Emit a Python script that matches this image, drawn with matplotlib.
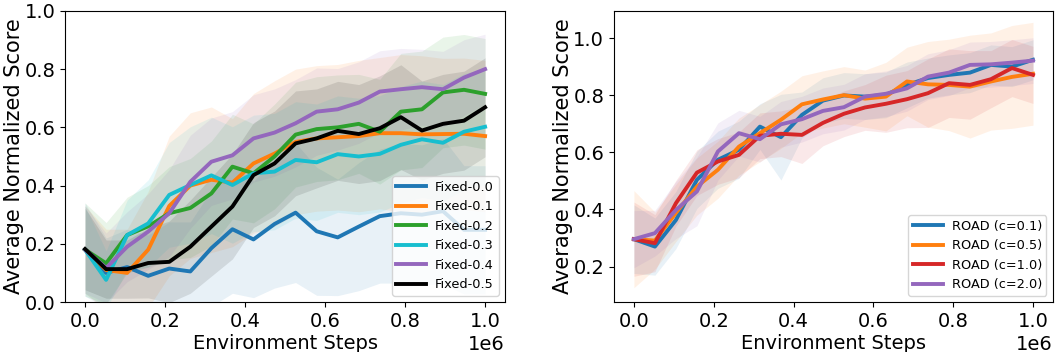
import numpy as np
import matplotlib
matplotlib.use("Agg")
import matplotlib.pyplot as plt

steps = np.linspace(0, 1e6, 20)

# Left panel: fixed coefficients
left_labels = ["Fixed-0.0", "Fixed-0.1", "Fixed-0.2", "Fixed-0.3", "Fixed-0.4", "Fixed-0.5"]
left_colors = ["tab:blue", "tab:orange", "tab:green", "#17becf", "tab:purple", "black"]
fixed_00 = [0.18, 0.10, 0.12, 0.09, 0.115, 0.105, 0.185, 0.25, 0.215, 0.268, 0.307, 0.243, 0.222, 0.259, 0.295, 0.305, 0.30, 0.312, 0.248, 0.248]
fixed_01 = [0.18, 0.11, 0.10, 0.18, 0.33, 0.40, 0.42, 0.41, 0.476, 0.51, 0.55, 0.562, 0.566, 0.57, 0.58, 0.58, 0.576, 0.577, 0.578, 0.57]
fixed_02 = [0.18, 0.133, 0.23, 0.26, 0.305, 0.323, 0.373, 0.465, 0.442, 0.50, 0.575, 0.594, 0.60, 0.612, 0.585, 0.654, 0.662, 0.72, 0.729, 0.715]
fixed_03 = [0.18, 0.076, 0.23, 0.27, 0.368, 0.402, 0.435, 0.402, 0.442, 0.448, 0.488, 0.48, 0.508, 0.50, 0.509, 0.54, 0.559, 0.547, 0.585, 0.602]
fixed_04 = [0.18, 0.117, 0.19, 0.242, 0.305, 0.413, 0.482, 0.504, 0.562, 0.582, 0.614, 0.654, 0.662, 0.685, 0.723, 0.731, 0.738, 0.731, 0.771, 0.80]
fixed_05 = [0.182, 0.113, 0.113, 0.134, 0.138, 0.19, 0.259, 0.328, 0.436, 0.476, 0.545, 0.562, 0.588, 0.577, 0.597, 0.635, 0.589, 0.612, 0.623, 0.669]

fixed_00_sd = [0.16, 0.12, 0.13, 0.14, 0.16, 0.17, 0.20, 0.22, 0.20, 0.22, 0.24, 0.22, 0.20, 0.22, 0.23, 0.24, 0.24, 0.25, 0.22, 0.22]
fixed_01_sd = [0.15, 0.14, 0.15, 0.20, 0.24, 0.25, 0.25, 0.22, 0.24, 0.25, 0.25, 0.25, 0.25, 0.26, 0.26, 0.27, 0.27, 0.26, 0.26, 0.26]
fixed_02_sd = [0.16, 0.14, 0.13, 0.14, 0.16, 0.17, 0.18, 0.18, 0.17, 0.18, 0.18, 0.18, 0.18, 0.17, 0.18, 0.20, 0.20, 0.19, 0.19, 0.19]
fixed_03_sd = [0.15, 0.10, 0.12, 0.15, 0.18, 0.20, 0.20, 0.20, 0.20, 0.20, 0.20, 0.20, 0.20, 0.20, 0.20, 0.20, 0.20, 0.20, 0.20, 0.20]
fixed_04_sd = [0.15, 0.12, 0.12, 0.13, 0.15, 0.16, 0.15, 0.15, 0.15, 0.15, 0.15, 0.15, 0.14, 0.14, 0.14, 0.14, 0.13, 0.13, 0.13, 0.12]
fixed_05_sd = [0.14, 0.10, 0.10, 0.12, 0.14, 0.16, 0.17, 0.18, 0.18, 0.18, 0.18, 0.17, 0.17, 0.17, 0.18, 0.18, 0.17, 0.17, 0.17, 0.17]

# Right panel: ROAD
right_labels = ["ROAD (c=0.1)", "ROAD (c=0.5)", "ROAD (c=1.0)", "ROAD (c=2.0)"]
right_colors = ["tab:blue", "tab:orange", "tab:red", "tab:purple"]
road_01 = [0.296, 0.27, 0.363, 0.504, 0.574, 0.609, 0.69, 0.653, 0.731, 0.781, 0.799, 0.795, 0.801, 0.836, 0.86, 0.871, 0.879, 0.906, 0.90, 0.924]
road_05 = [0.296, 0.291, 0.388, 0.48, 0.539, 0.62, 0.667, 0.714, 0.768, 0.785, 0.80, 0.788, 0.795, 0.848, 0.838, 0.836, 0.83, 0.848, 0.864, 0.875]
road_10 = [0.296, 0.282, 0.422, 0.529, 0.568, 0.591, 0.658, 0.665, 0.661, 0.703, 0.735, 0.757, 0.77, 0.786, 0.807, 0.842, 0.836, 0.856, 0.895, 0.871]
road_20 = [0.296, 0.317, 0.398, 0.463, 0.603, 0.667, 0.646, 0.698, 0.716, 0.745, 0.758, 0.795, 0.805, 0.824, 0.865, 0.879, 0.906, 0.908, 0.914, 0.921]

road_01_sd = [0.12, 0.10, 0.10, 0.10, 0.10, 0.10, 0.08, 0.15, 0.08, 0.08, 0.08, 0.08, 0.08, 0.08, 0.07, 0.07, 0.07, 0.07, 0.07, 0.07]
road_05_sd = [0.17, 0.10, 0.10, 0.10, 0.10, 0.10, 0.10, 0.10, 0.10, 0.10, 0.10, 0.10, 0.12, 0.12, 0.15, 0.16, 0.18, 0.17, 0.18, 0.18]
road_10_sd = [0.13, 0.10, 0.08, 0.08, 0.08, 0.08, 0.08, 0.08, 0.10, 0.08, 0.08, 0.08, 0.10, 0.10, 0.12, 0.12, 0.12, 0.10, 0.10, 0.10]
road_20_sd = [0.10, 0.08, 0.10, 0.12, 0.10, 0.08, 0.08, 0.08, 0.08, 0.08, 0.08, 0.08, 0.08, 0.08, 0.08, 0.08, 0.08, 0.08, 0.08, 0.08]

left_means = [fixed_00, fixed_01, fixed_02, fixed_03, fixed_04, fixed_05]
left_sds = [fixed_00_sd, fixed_01_sd, fixed_02_sd, fixed_03_sd, fixed_04_sd, fixed_05_sd]
right_means = [road_01, road_05, road_10, road_20]
right_sds = [road_01_sd, road_05_sd, road_10_sd, road_20_sd]

plt.rcParams['font.family'] = ['DejaVu Sans']
fig = plt.figure(figsize=(10.56, 3.52), dpi=100)
ax1 = fig.add_axes([0.0616, 0.142, 0.4167, 0.827])
ax2 = fig.add_axes([0.5814, 0.142, 0.4157, 0.827])

def draw(ax, means, sds, labels, colors):
    for m, s, lab, c in zip(means, sds, labels, colors):
        m = np.array(m); s = np.array(s)
        ax.fill_between(steps, m - s, m + s, color=c, alpha=0.1, linewidth=0)
    for m, lab, c in zip(means, labels, colors):
        ax.plot(steps, m, color=c, linewidth=2.8, label=lab)
    ax.set_xlabel("Environment Steps", fontsize=14, labelpad=2)
    ax.set_ylabel("Average Normalized Score", fontsize=15, labelpad=0)
    ax.tick_params(labelsize=14)
    ax.xaxis.get_offset_text().set_fontsize(14)
    ax.legend(loc="lower right", fontsize=9.3, handlelength=2.3,
              handletextpad=0.7, borderpad=0.35)

draw(ax1, left_means, left_sds, left_labels, left_colors)
draw(ax2, right_means, right_sds, right_labels, right_colors)
ax1.set_ylim(0, 1.0)
ax2.set_ylim(0.076, 1.095)
ax2.set_yticks([0.2, 0.4, 0.6, 0.8, 1.0])
for ax in (ax1, ax2):
    ax.set_xlim(-0.05e6, 1.05e6)

fig.savefig("out.png", dpi=100)
